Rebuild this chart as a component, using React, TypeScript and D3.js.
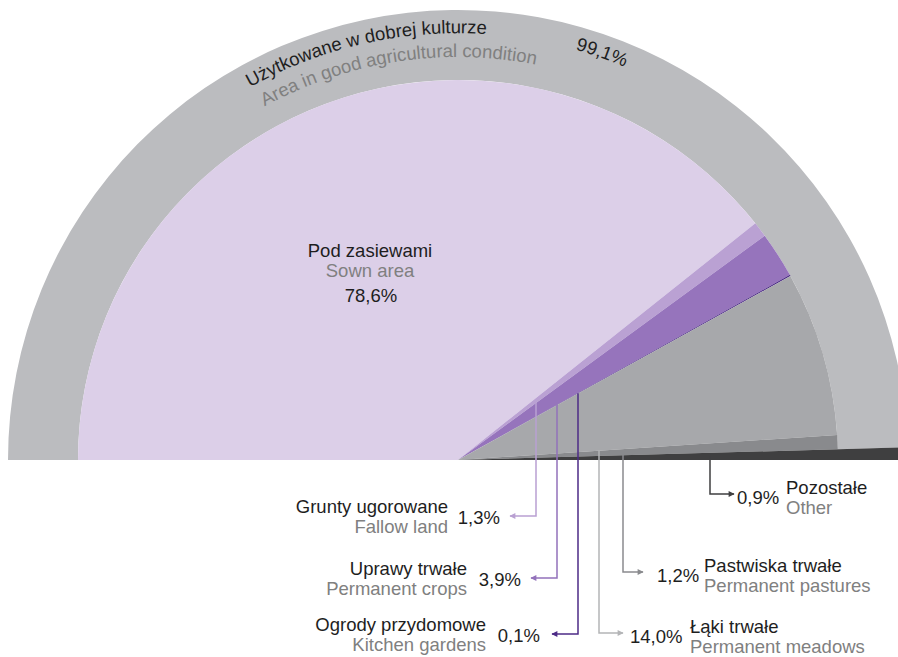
import React, { useEffect, useRef } from "react";
import * as d3 from "d3";

// agricultural land structure (%), read clockwise from the left
const categoriesPl = [
  "Pod zasiewami",
  "Grunty ugorowane",
  "Uprawy trwałe",
  "Ogrody przydomowe",
  "Łąki trwałe",
  "Pastwiska trwałe",
  "Pozostałe",
];
const categoriesEn = [
  "Sown area",
  "Fallow land",
  "Permanent crops",
  "Kitchen gardens",
  "Permanent meadows",
  "Permanent pastures",
  "Other",
];
const shares = [78.6, 1.3, 3.9, 0.1, 14.0, 1.2, 0.9];
const shareLabels = ["78,6%", "1,3%", "3,9%", "0,1%", "14,0%", "1,2%", "0,9%"];

// outer ring
const ringCategoryPl = "Użytkowane w dobrej kulturze";
const ringCategoryEn = "Area in good agricultural condition";
const ringShares = [99.1, 0.9];
const ringLabel = "99,1%";

const colors = ["#dccfe8", "#baa1d3", "#9674bc", "#4d2b87", "#a7a8ab", "#898a8d", "#3f3f40"];
const lineColors = ["", "#b9a0d2", "#9372bb", "#4d2b87", "#b4b5b7", "#8a8b8e", "#3f3f40"];
const ringColor = "#bbbcbf";
const dark = "#1e1e1e";
const grey = "#808080";

// callout layout (index into the arrays above)
const callouts = [
  { i: 1, x: 536, y: 516, tip: 510, side: "left", pctX: 500, labelX: 448 },
  { i: 2, x: 557, y: 578, tip: 531, side: "left", pctX: 521, labelX: 467 },
  { i: 3, x: 578, y: 634, tip: 552, side: "left", pctX: 540, labelX: 486 },
  { i: 4, x: 599, y: 633, tip: 623, side: "right", pctX: 630, labelX: 690 },
  { i: 5, x: 623, y: 572, tip: 643, side: "right", pctX: 657, labelX: 704 },
  { i: 6, x: 710, y: 494, tip: 734, side: "right", pctX: 737, labelX: 786 },
];

const App: React.FC = () => {
  const ref = useRef<SVGSVGElement | null>(null);

  const width = 898,
    height = 657,
    cx = 458,
    cy = 460,
    rInner = 380,
    rOuter = 450,
    fontSize = 18.5;

  useEffect(() => {
    const svg = d3.select(ref.current);
    svg.selectAll("*").remove();
    svg.style("font-family", "'Liberation Sans', Arial, sans-serif");

    const pie = d3
      .pie<number>()
      .sort(null)
      .value((d) => d)
      .startAngle(-Math.PI / 2)
      .endAngle(Math.PI / 2);

    const g = svg.append("g").attr("transform", `translate(${cx},${cy})`);

    // outer ring (only the first part, the "other" wedge goes full radius)
    const ringArcs = pie(ringShares);
    const ringArc = d3.arc<any>().innerRadius(rInner).outerRadius(rOuter);
    g.append("path").attr("d", ringArc(ringArcs[0])).attr("fill", ringColor);

    const arcs = pie(shares);
    const last = shares.length - 1;
    const arc = d3
      .arc<any>()
      .innerRadius(0)
      .outerRadius((d: any) => (d.index === last ? rOuter : rInner));

    g.selectAll("path.slice")
      .data(arcs)
      .join("path")
      .attr("class", "slice")
      .attr("d", arc)
      .attr("fill", (d) => colors[d.index]);

    // arrow markers
    const defs = svg.append("defs");
    callouts.forEach((c) => {
      defs
        .append("marker")
        .attr("id", `arrow-${c.i}`)
        .attr("viewBox", "0 0 10 10")
        .attr("refX", 9)
        .attr("refY", 5)
        .attr("markerUnits", "userSpaceOnUse")
        .attr("markerWidth", 7)
        .attr("markerHeight", 6)
        .attr("orient", "auto")
        .append("path")
        .attr("d", "M0,0L10,5L0,10z")
        .attr("fill", lineColors[c.i]);
    });

    // leader lines, starting at the lower edge of each wedge
    callouts.forEach((c) => {
      const a = arcs[c.i];
      const ang = c.i === last ? (a.startAngle + a.endAngle) / 2 : a.endAngle - 0.002;
      const dx = c.x - cx;
      const top = cy - (dx * Math.cos(ang)) / Math.sin(ang);
      const p = d3.path();
      p.moveTo(c.x, top);
      p.lineTo(c.x, c.y);
      p.lineTo(c.tip, c.y);
      svg
        .append("path")
        .attr("d", p.toString())
        .attr("fill", "none")
        .attr("stroke", lineColors[c.i])
        .attr("stroke-width", 1.5)
        .attr("marker-end", `url(#arrow-${c.i})`);

      const left = c.side === "left";
      svg
        .append("text")
        .attr("x", c.pctX)
        .attr("y", c.y + (left ? 8 : 10))
        .attr("text-anchor", left ? "end" : "start")
        .attr("font-size", fontSize)
        .attr("fill", dark)
        .text(shareLabels[c.i]);
      svg
        .append("text")
        .attr("x", c.labelX)
        .attr("y", c.y + (left ? -3 : 0))
        .attr("text-anchor", left ? "end" : "start")
        .attr("font-size", fontSize)
        .attr("fill", dark)
        .text(categoriesPl[c.i]);
      svg
        .append("text")
        .attr("x", c.labelX)
        .attr("y", c.y + (left ? 17 : 20))
        .attr("text-anchor", left ? "end" : "start")
        .attr("font-size", fontSize)
        .attr("fill", grey)
        .text(categoriesEn[c.i]);
    });

    // sown area label
    const sown = svg.append("g").attr("text-anchor", "middle").attr("font-size", fontSize);
    sown.append("text").attr("x", 370).attr("y", 257).attr("fill", dark).text(categoriesPl[0]);
    sown.append("text").attr("x", 370).attr("y", 277).attr("fill", grey).text(categoriesEn[0]);
    sown.append("text").attr("x", 371).attr("y", 302).attr("fill", dark).text(shareLabels[0]);

    // curved ring labels
    const semi = (r: number) => `M${cx - r},${cy}A${r},${r} 0 0 1 ${cx + r},${cy}`;
    defs.append("path").attr("id", "ring-top").attr("d", semi(427));
    defs.append("path").attr("id", "ring-bottom").attr("d", semi(403));

    const deg = (a: number, r: number) => (a * Math.PI * r) / 180;
    svg
      .append("text")
      .attr("font-size", fontSize)
      .attr("fill", dark)
      .append("textPath")
      .attr("href", "#ring-top")
      .attr("startOffset", deg(60.8, 427))
      .text(ringCategoryPl);
    svg
      .append("text")
      .attr("font-size", fontSize)
      .attr("fill", grey)
      .append("textPath")
      .attr("href", "#ring-bottom")
      .attr("startOffset", deg(61.3, 403))
      .text(ringCategoryEn);
    svg
      .append("text")
      .attr("font-size", fontSize)
      .attr("fill", dark)
      .append("textPath")
      .attr("href", "#ring-top")
      .attr("startOffset", deg(105.9, 427))
      .text(ringLabel);
  }, []);

  return (
    <svg
      ref={ref}
      width={width}
      height={height}
      style={{ position: "absolute", left: 0, top: 0, background: "#fff" }}
    ></svg>
  );
};

export default App;
